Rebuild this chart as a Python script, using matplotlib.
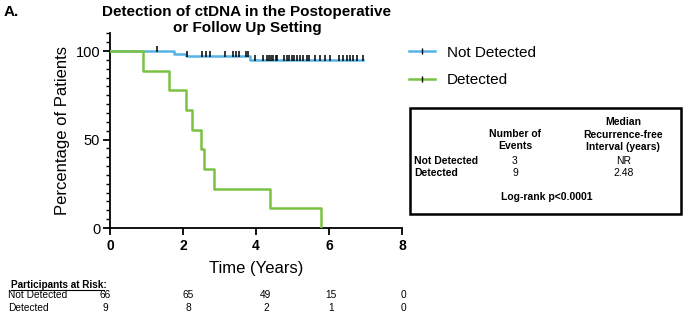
import numpy as np
import matplotlib
matplotlib.use("Agg")
import matplotlib.pyplot as plt
from matplotlib.lines import Line2D
from matplotlib.patches import Rectangle

plt.rcParams['font.family'] = ['Liberation Sans', 'DejaVu Sans']

# Kaplan-Meier steps (time in years, percent)
nd_times = [0, 1.76, 2.07, 3.84]
nd_surv = [100, 98.5, 97.0, 95.1]
nd_end = 6.94
nd_censor = [1.29, 2.10, 2.51, 2.62, 2.73, 3.14, 3.38, 3.45, 3.53, 3.73, 3.79,
             3.97, 4.18, 4.29, 4.35, 4.41, 4.47, 4.54, 4.57, 4.78, 4.84, 4.91,
             4.98, 5.05, 5.12, 5.21, 5.30, 5.39, 5.46, 5.62, 5.75, 5.89, 6.03,
             6.28, 6.39, 6.48, 6.58, 6.67, 6.78, 6.94]

det_times = [0, 0.91, 1.62, 2.07, 2.26, 2.48, 2.58, 2.86, 4.38, 5.77]
det_surv = [100, 88.9, 77.8, 66.7, 55.6, 44.4, 33.3, 22.2, 11.1, 0]

risk_groups = ['Not Detected', 'Detected']
risk_nd = [66, 65, 49, 15, 0]
risk_det = [9, 8, 2, 1, 0]
risk_cols = [-0.14, 2.14, 4.27, 6.05, 8.03]

events = ['3', '9']
medians = ['NR', '2.48']

blue = '#55B3E6'
green = '#7CC242'

fig = plt.figure(figsize=(6.85, 3.13), dpi=100)
ax = fig.add_axes([110/685, 1-228/313, 292/685, 194.7/313])


def step_at(times, surv, t):
    idx = np.searchsorted(times, t, side='right') - 1
    return np.array(surv)[idx]


ax.step(nd_times + [nd_end], nd_surv + [nd_surv[-1]], where='post',
        color=blue, lw=1.8, zorder=3)
ax.step(det_times, det_surv, where='post', color=green, lw=1.8, zorder=3)
ax.plot(nd_censor, step_at(nd_times, nd_surv, nd_censor) + 1.2, '|',
        color='black', ms=4.5, mew=1.1, zorder=4)

ax.set_xlim(0, 8)
ax.set_ylim(0, 110)
ax.set_xticks([0, 2, 4, 6, 8])
ax.set_yticks([0, 50, 100])
ax.set_yticks(np.arange(0, 111, 5), minor=True)
for lab in ax.get_xticklabels():
    lab.set_fontweight('bold')
ax.tick_params(axis='x', labelsize=10, width=1.3, length=5, pad=3)
ax.tick_params(axis='y', which='major', labelsize=10.5, width=1.3, length=5, pad=2)
ax.tick_params(axis='y', which='minor', width=1.0, length=3)
for s in ['top', 'right']:
    ax.spines[s].set_visible(False)
for s in ['left', 'bottom']:
    ax.spines[s].set_linewidth(1.3)
ax.set_xlabel('Time (Years)', fontsize=12, labelpad=6)
ax.set_ylabel('Percentage of Patients', fontsize=12, labelpad=4)

fig.text(247/685, 1-20/313, 'Detection of ctDNA in the Postoperative\nor Follow Up Setting',
         ha='center', va='center', fontsize=11, fontweight='bold', linespacing=1.1)
fig.text(4/685, 1-12/313, 'A.', ha='left', va='center', fontsize=11, fontweight='bold')

handles = [Line2D([], [], color=blue, lw=1.8, marker='|', mec='black', ms=4.5),
           Line2D([], [], color=green, lw=1.8, marker='|', mec='black', ms=4.5)]
fig.legend(handles, risk_groups, loc='upper left', bbox_to_anchor=(395/685, 1-32/313),
           frameon=False, fontsize=11, handlelength=1.7, handletextpad=0.8,
           labelspacing=0.9, markerscale=1)

# summary box
fig.patches.append(Rectangle((410/685, 1-214/313), 271/685, 106/313,
                             transform=fig.transFigure, fill=False, lw=1.8,
                             edgecolor='black'))
fs = 7.5
fig.text(515/685, 1-140/313, 'Number of\nEvents', ha='center', va='center',
         fontsize=fs, fontweight='bold', linespacing=1.35)
fig.text(623/685, 1-134.5/313, 'Median\nRecurrence-free\nInterval (years)', ha='center',
         va='center', fontsize=fs, fontweight='bold', linespacing=1.35)
for i, g in enumerate(risk_groups):
    y = 1 - (160.5 + 12.5*i)/313
    fig.text(414/685, y, g, ha='left', va='center', fontsize=fs, fontweight='bold')
    fig.text(515/685, y, events[i], ha='center', va='center', fontsize=fs)
    fig.text(624/685, y, medians[i], ha='center', va='center', fontsize=fs)
fig.text(547/685, 1-197.5/313, 'Log-rank p<0.0001', ha='center', va='center',
         fontsize=fs, fontweight='bold')

# numbers at risk
fig.text(11/685, 1-284.5/313, 'Participants at Risk:', ha='left', va='center',
         fontsize=7.2, fontweight='bold')
fig.add_artist(Line2D([11/685, 104/685], [1-289.5/313, 1-289.5/313], color='black', lw=0.8))
for i, (g, row) in enumerate(zip(risk_groups, [risk_nd, risk_det])):
    y = 1 - (295 + 13*i)/313
    fig.text(8/685, y, g, ha='left', va='center', fontsize=7.3)
    for xc, v in zip(risk_cols, row):
        xf = ax.transData.transform((xc, 0))[0] / fig.bbox.width
        fig.text(xf, y, str(v), ha='center', va='center', fontsize=7.3)

fig.savefig('out.png', dpi=100)
